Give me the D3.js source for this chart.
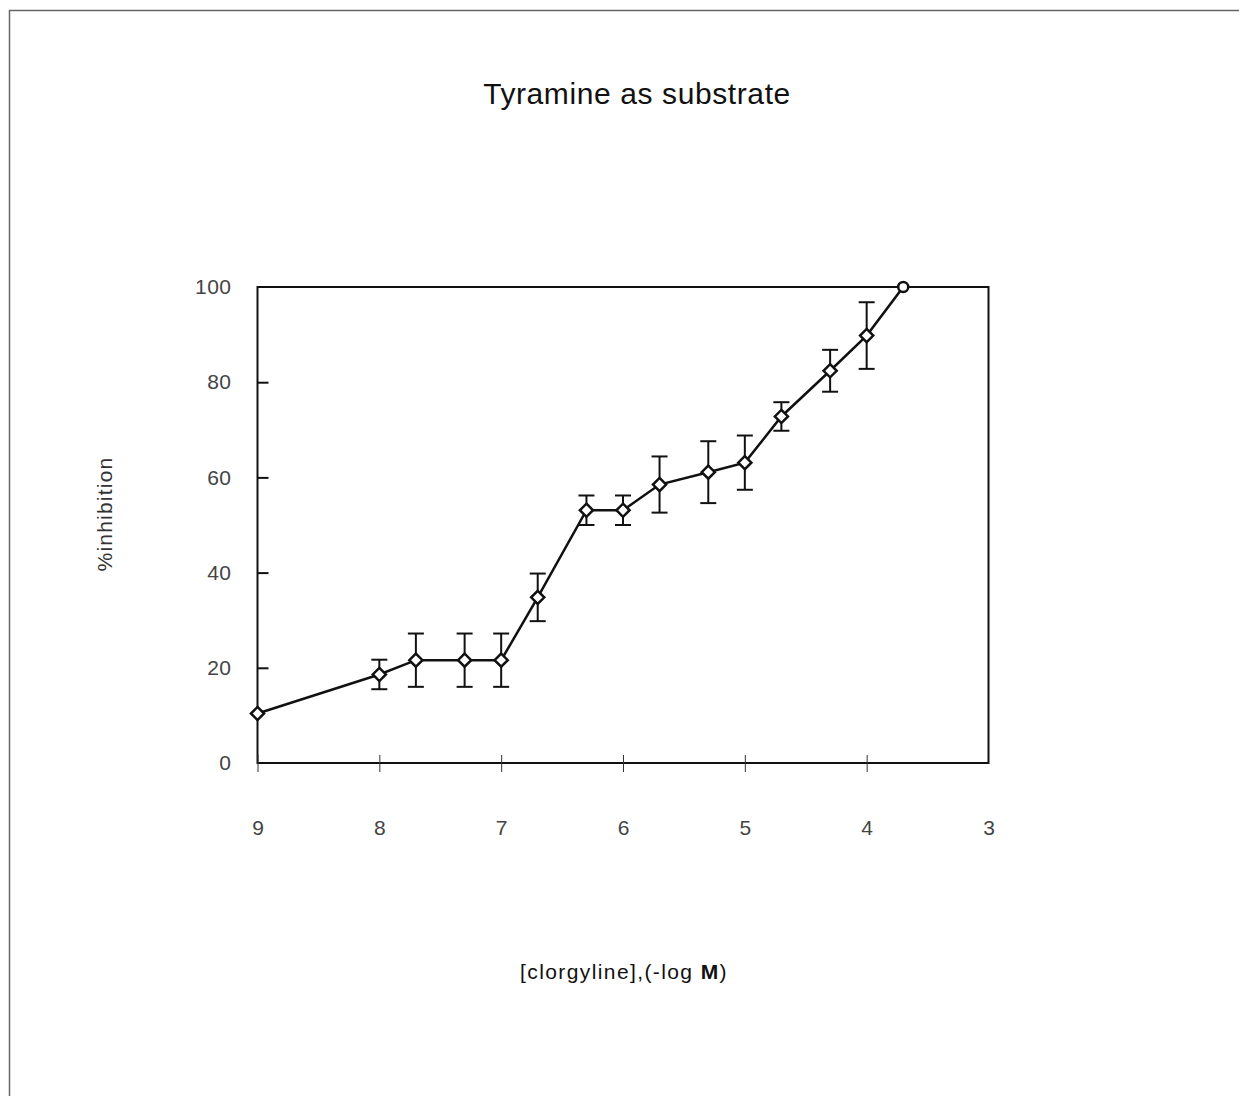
<!DOCTYPE html>
<html>
<head>
<meta charset="utf-8">
<script src="https://cdn.jsdelivr.net/npm/d3@7"></script>
<style>
  html, body { margin: 0; padding: 0; background: #fff; }
  svg { display: block; }
  text { font-family: "Liberation Sans", Arial, Helvetica, sans-serif; }
</style>
</head>
<body>
<svg id="chart" width="1239" height="1096"></svg>
<script>
// clorgyline concentration as -log M
const logConc = [9, 8, 7.7, 7.3, 7, 6.7, 6.3, 6, 5.7, 5.3, 5, 4.7, 4.3, 4, 3.7];
// mean % inhibition of MAO with tyramine as substrate
const inhibition = [10.4, 18.6, 21.6, 21.6, 21.6, 34.8, 53.1, 53.1, 58.5, 61.1, 63.1, 72.8, 82.4, 89.8, 100];
// error bar half-lengths (0 = no bar drawn)
const errors = [0, 3.1, 5.6, 5.6, 5.6, 5.0, 3.1, 3.1, 5.9, 6.5, 5.7, 3.0, 4.4, 7.0, 0];
const xTicks = [9, 8, 7, 6, 5, 4, 3];
const yTicks = [0, 20, 40, 60, 80, 100];

const points = logConc.map((x, i) => ({ x, y: inhibition[i], e: errors[i], last: i === logConc.length - 1 }));

const svg = d3.select("#chart");
const plot = { left: 257.5, right: 988.5, top: 287, bottom: 763 };

const x = d3.scaleLinear().domain([9, 3]).range([plot.left, plot.right]);
const y = d3.scaleLinear().domain([0, 100]).range([plot.bottom, plot.top]);

// page frame
svg.append("path")
  .attr("d", `M9.5,1096 V10.5 H1239`)
  .attr("fill", "none").attr("stroke", "#666").attr("stroke-width", 1.5);

// title
svg.append("text")
  .attr("x", 637).attr("y", 104)
  .attr("text-anchor", "middle")
  .attr("font-size", 30).attr("fill", "#111")
  .attr("letter-spacing", 0.6)
  .text("Tyramine as substrate");

// plot box
svg.append("rect")
  .attr("x", plot.left).attr("y", plot.top)
  .attr("width", plot.right - plot.left).attr("height", plot.bottom - plot.top)
  .attr("fill", "none").attr("stroke", "#111").attr("stroke-width", 2);

// y axis: inward ticks
const yAxis = d3.axisLeft(y).tickValues(yTicks).tickSize(-11).tickPadding(26).tickFormat(d3.format("d"));
const gy = svg.append("g").attr("transform", `translate(${plot.left},0)`).call(yAxis);
gy.select(".domain").remove();
gy.selectAll(".tick line").attr("stroke", "#111").attr("stroke-width", 2)
  .filter(d => d === 0 || d === 100).remove();
gy.selectAll(".tick text").attr("font-size", 21).attr("fill", "#444")
  .attr("font-family", "'Liberation Sans', Arial, sans-serif").attr("letter-spacing", 0.5);

// x axis: thin ticks crossing the baseline
const xAxis = d3.axisBottom(x).tickValues(xTicks).tickSize(0).tickPadding(0).tickFormat(d3.format("d"));
const gx = svg.append("g").attr("transform", `translate(0,${plot.bottom})`).call(xAxis);
gx.select(".domain").remove();
gx.selectAll(".tick").append("line")
  .attr("y1", -8).attr("y2", 9)
  .attr("stroke", "#333").attr("stroke-width", 1)
  .filter(d => d === 3).remove();
gx.selectAll(".tick text").attr("y", 57).attr("font-size", 21).attr("fill", "#444")
  .attr("font-family", "'Liberation Sans', Arial, sans-serif");

// axis titles
svg.append("text")
  .attr("transform", `translate(112,514) rotate(-90)`)
  .attr("text-anchor", "middle")
  .attr("font-size", 21).attr("fill", "#333")
  .attr("letter-spacing", 1.2)
  .text("%inhibition");

const xl = svg.append("text")
  .attr("x", 624).attr("y", 979)
  .attr("text-anchor", "middle")
  .attr("font-size", 21).attr("fill", "#111")
  .attr("letter-spacing", 1.4);
xl.append("tspan").text("[clorgyline],(-log ");
xl.append("tspan").attr("font-weight", "bold").text("M");
xl.append("tspan").text(")");

// error bars
const capW = 8;
const eb = svg.append("g").attr("stroke", "#111").attr("stroke-width", 2).attr("fill", "none");
points.filter(d => d.e > 0).forEach(d => {
  const cx = x(d.x), y1 = y(d.y + d.e), y2 = y(d.y - d.e);
  eb.append("line").attr("x1", cx).attr("x2", cx).attr("y1", y1).attr("y2", y2);
  eb.append("line").attr("x1", cx - capW).attr("x2", cx + capW).attr("y1", y1).attr("y2", y1);
  eb.append("line").attr("x1", cx - capW).attr("x2", cx + capW).attr("y1", y2).attr("y2", y2);
});

// connecting line
svg.append("path")
  .datum(points)
  .attr("fill", "none").attr("stroke", "#111").attr("stroke-width", 2.5)
  .attr("d", d3.line().x(d => x(d.x)).y(d => y(d.y)));

// markers: open diamonds, final point an open circle
const diamond = d3.symbol().type(d3.symbolDiamond2).size(110);
svg.append("g").selectAll("path.m")
  .data(points.filter(d => !d.last))
  .join("path")
  .attr("class", "m")
  .attr("transform", d => `translate(${x(d.x)},${y(d.y)})`)
  .attr("d", diamond)
  .attr("fill", "#fff").attr("stroke", "#111").attr("stroke-width", 2.5);

svg.append("g").selectAll("circle")
  .data(points.filter(d => d.last))
  .join("circle")
  .attr("cx", d => x(d.x)).attr("cy", d => y(d.y)).attr("r", 5)
  .attr("fill", "#fff").attr("stroke", "#111").attr("stroke-width", 2.5);
</script>
</body>
</html>
